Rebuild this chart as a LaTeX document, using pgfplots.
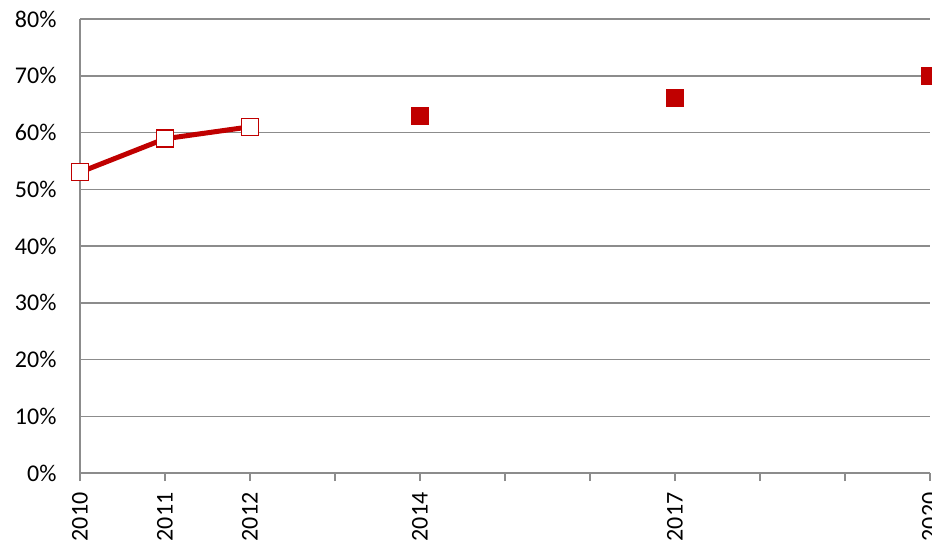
\documentclass[border=0pt]{standalone}
\usepackage{fontspec}
\setmainfont{Carlito}
\usepackage{pgfplots}
\pgfplotsset{compat=1.18}
\definecolor{dred}{HTML}{C00000}
\definecolor{gridgray}{HTML}{8C8C8C}
\begin{document}
\begin{tikzpicture}[x=1pt,y=1pt]
\begin{scope}
\clip (-80pt,-76pt) rectangle (852pt,473pt);
\begin{axis}[
  at={(0pt,0pt)}, anchor=south west,
  scale only axis, width=850pt, height=454pt,
  xmin=2010, xmax=2020, ymin=0, ymax=80,
  clip=false,
  axis x line*=bottom, axis y line*=left,
  axis line style={-, gridgray, line width=1.5pt},
  xtick={2010,2011,...,2020},
  xticklabels={2010,2011,2012,,2014,,,2017,,,2020},
  x tick label style={rotate=90, anchor=east, xshift=-8pt, font=\fontsize{24}{28}\selectfont},
  y tick label style={xshift=-12pt, font=\fontsize{24}{28}\selectfont},
  ytick={0,10,...,80},
  yticklabel={\pgfmathprintnumber{\tick}\%},
  /pgf/number format/assume math mode=true,
  tick align=outside,
  major tick length=8pt,
  xtick style={gridgray, line width=1.5pt},
  ytick style={draw=none},
  ymajorgrids,
  grid style={gridgray, line width=1.5pt},
]
\addplot[dred, line width=5pt, mark=square*, mark size=8.5pt,
  mark options={fill=white, draw=dred, line width=1.5pt}]
  coordinates {(2010,53) (2011,58.9) (2012,61)};
\addplot[only marks, mark=square*, mark size=8.5pt,
  mark options={fill=dred, draw=dred, line width=1pt}]
  coordinates {(2014,62.9) (2017,66.1) (2020,70)};
\end{axis}
\end{scope}
\pgfresetboundingbox
\useasboundingbox (-80pt,-76pt) rectangle (852pt,473pt);
\end{tikzpicture}
\end{document}
